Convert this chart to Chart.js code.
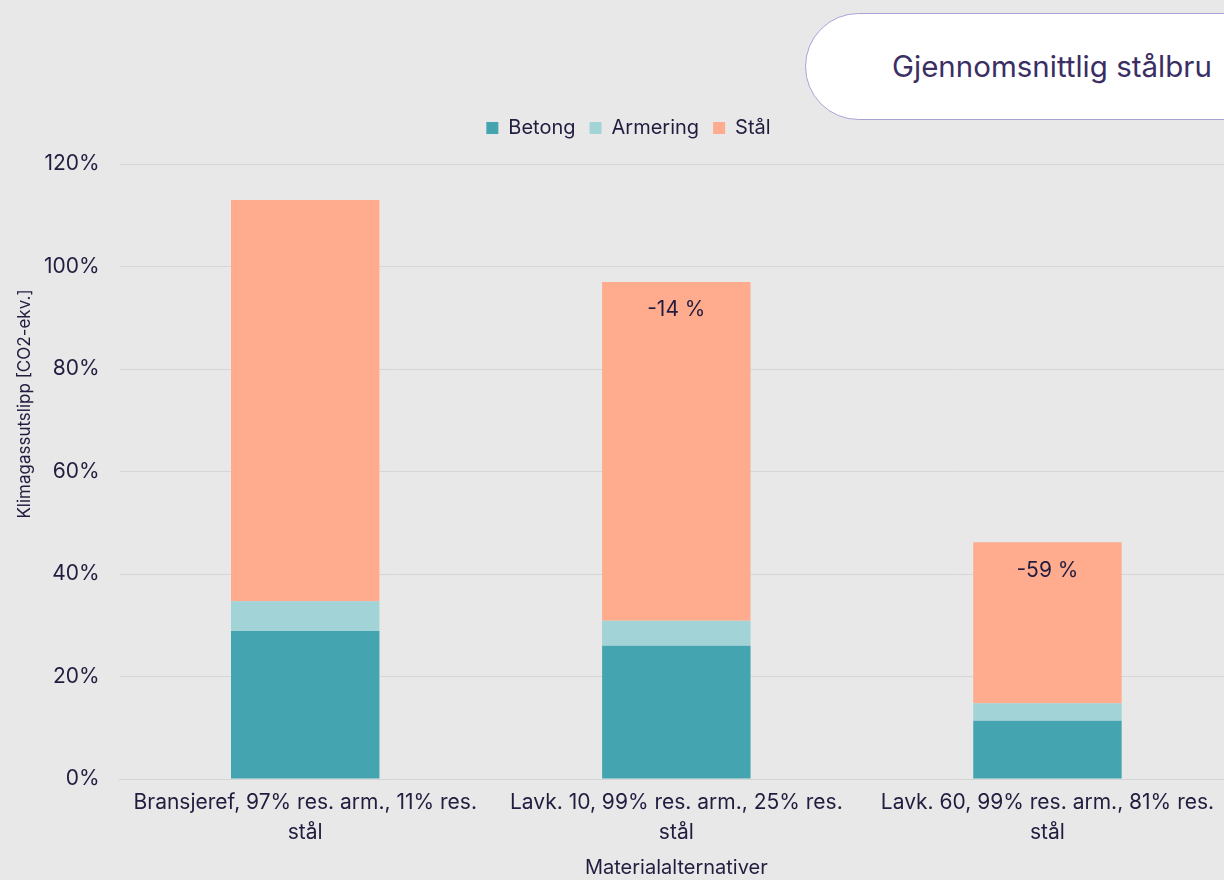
<!DOCTYPE html>
<html><head><meta charset="utf-8">
<script src="https://cdn.jsdelivr.net/npm/chart.js@4/dist/chart.umd.min.js"></script>
<style>
html,body{margin:0;padding:0;background:#E8E8E8;overflow:hidden;width:1224px;height:880px;}
#wrap{position:absolute;left:0;top:0;width:1240px;height:880px;}
#badge{position:absolute;left:805px;top:13px;width:480px;height:107px;background:#fff;border:1.5px solid #A6A3D6;border-radius:54px;box-sizing:border-box;font-family:Inter,"Noto Sans",sans-serif;font-size:29.5px;color:#3A2E63;line-height:104px;padding-left:86px;white-space:nowrap;}
</style></head>
<body>
<div id="wrap"><canvas id="c" width="1240" height="880"></canvas></div>
<div id="badge">Gjennomsnittlig stålbru</div>
<script>
const categories = [
  ["Bransjeref, 97% res. arm., 11% res.", "stål"],
  ["Lavk. 10, 99% res. arm., 25% res.", "stål"],
  ["Lavk. 60, 99% res. arm., 81% res.", "stål"]
];
const betong   = [28.9, 26.0, 11.4];
const armering = [5.8, 4.9, 3.4];
const staal    = [78.3, 66.1, 31.4];
const changeLabels = ["", "-14 %", "-59 %"];
const yTicks = [0, 20, 40, 60, 80, 100, 120];

const TXT = "#221C3F";
const FONT = "Inter, 'Noto Sans', sans-serif";

const labelPlugin = {
  id: "changeLabels",
  afterDatasetsDraw(chart) {
    const ctx = chart.ctx;
    const meta = chart.getDatasetMeta(2);
    ctx.save();
    ctx.font = "21px " + FONT;
    ctx.fillStyle = TXT;
    ctx.textAlign = "center";
    ctx.textBaseline = "middle";
    meta.data.forEach((bar, i) => {
      if (changeLabels[i]) ctx.fillText(changeLabels[i], bar.x, bar.y + 28);
    });
    ctx.restore();
  }
};
const yTitlePlugin = {
  id: "yTitle",
  afterDraw(chart) {
    const ctx = chart.ctx;
    ctx.save();
    ctx.translate(25, 404);
    ctx.rotate(-Math.PI / 2);
    ctx.font = "17px " + FONT;
    ctx.fillStyle = TXT;
    ctx.textAlign = "center";
    ctx.textBaseline = "middle";
    ctx.fillText("Klimagassutslipp [CO2-ekv.]", 0, 0);
    ctx.restore();
  }
};
const legendMargin = {
  id: "legendMargin",
  beforeInit(chart) {
    const orig = chart.legend.fit;
    chart.legend.fit = function () { orig.bind(chart.legend)(); this.height += 16; };
  }
};

new Chart(document.getElementById("c"), {
  type: "bar",
  data: {
    labels: categories,
    datasets: [
      {label: "Betong", data: betong, backgroundColor: "#44A4B0"},
      {label: "Armering", data: armering, backgroundColor: "#A2D3D6"},
      {label: "Stål", data: staal, backgroundColor: "#FFAB8E"}
    ]
  },
  options: {
    responsive: false,
    animation: false,
    devicePixelRatio: 1,
    layout: {padding: {top: 104, left: 24, right: 7, bottom: 0}},
    datasets: {bar: {categoryPercentage: 0.4, barPercentage: 1.0}},
    plugins: {
      legend: {
        position: "top",
        labels: {boxWidth: 12, boxHeight: 12, padding: 14, color: TXT, font: {family: FONT, size: 20}}
      },
      tooltip: {enabled: false}
    },
    scales: {
      x: {
        stacked: true,
        grid: {display: false},
        border: {color: "#D4D4D4"},
        ticks: {color: TXT, font: {family: FONT, size: 21, lineHeight: 1.45}, maxRotation: 0, autoSkip: false, padding: 0},
        title: {display: true, text: "Materialalternativer", color: TXT, font: {family: FONT, size: 20}, padding: {top: 8, bottom: 0}}
      },
      y: {
        stacked: true,
        min: 0, max: 120,
        afterBuildTicks(scale) { scale.ticks = yTicks.map(v => ({value: v})); },
        grid: {color: "#D6D6D6", drawTicks: false},
        border: {display: false},
        ticks: {color: TXT, font: {family: FONT, size: 21}, padding: 20, callback: v => v + "%"}
      }
    }
  },
  plugins: [labelPlugin, yTitlePlugin, legendMargin]
});
</script>
</body></html>
